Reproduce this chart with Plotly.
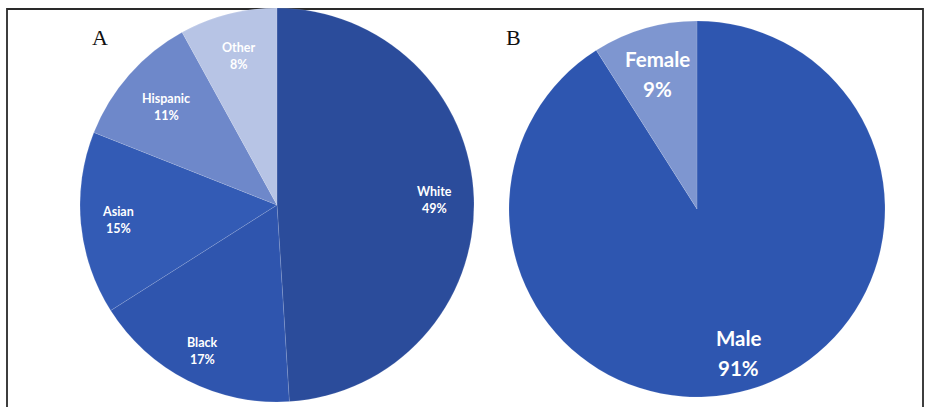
import math
import plotly.graph_objects as go

W, H = 931, 407

# Panel A: race / ethnicity
race_labels = ["White", "Black", "Asian", "Hispanic", "Other"]
race_values = [49, 17, 15, 11, 8]
race_colors = ["#2B4C9B", "#2F55AE", "#335BB5", "#6E88CA", "#B7C4E5"]
race_label_radius = [0.80, 0.83, 0.81, 0.75, 0.78]

# Panel B: sex
sex_labels = ["Male", "Female"]
sex_values = [91, 9]
sex_colors = ["#2E56B0", "#7E96D0"]
sex_label_radius = [0.80, 0.75]

panel_letters = ["A", "B"]

# pie geometry in pixels: centre x, centre y, radius
pie_a = (277, 205, 197)
pie_b = (697, 209, 188)


def domain(geom):
    cx, cy, r = geom
    return dict(x=[(cx - r) / W, (cx + r) / W],
                y=[1 - (cy + r) / H, 1 - (cy - r) / H])


def slice_labels(labels, values, radii, geom, size, gap):
    cx, cy, r = geom
    total = sum(values)
    out = []
    cum = 0
    for lab, val, rho in zip(labels, values, radii):
        mid = math.radians(360 * (cum + val / 2) / total)
        cum += val
        px = cx + rho * r * math.sin(mid)
        py = cy - rho * r * math.cos(mid)
        for text, dy in ((lab, -gap / 2), (f"{val}%", gap / 2)):
            out.append(dict(
                x=px / W, y=1 - (py + dy) / H, xref="paper", yref="paper",
                text=f"<b>{text}</b>", showarrow=False,
                xanchor="center", yanchor="middle",
                font=dict(family="Lato, sans-serif", size=size, color="white"),
            ))
    return out


fig = go.Figure()
for labels, values, colors, geom in (
    (race_labels, race_values, race_colors, pie_a),
    (sex_labels, sex_values, sex_colors, pie_b),
):
    fig.add_trace(go.Pie(
        labels=labels, values=values, sort=False, direction="clockwise",
        rotation=0, textinfo="none", hoverinfo="label+percent",
        marker=dict(colors=colors, line=dict(color="rgba(255,255,255,0.2)", width=0.6)),
        domain=domain(geom), showlegend=False,
    ))

annotations = []
annotations += slice_labels(race_labels, race_values, race_label_radius, pie_a, 12.5, 17)
annotations += slice_labels(sex_labels, sex_values, sex_label_radius, pie_b, 20.5, 30)
for letter, px in zip(panel_letters, (100, 513)):
    annotations.append(dict(
        x=px / W, y=1 - 37 / H, xref="paper", yref="paper", text=letter,
        showarrow=False, xanchor="center", yanchor="middle",
        font=dict(family="Liberation Serif, serif", size=22, color="#111111"),
    ))

# frame around the figure (bottom edge falls outside the page)
fig.add_shape(type="rect", xref="paper", yref="paper",
              x0=7 / W, x1=923 / W, y0=-0.05, y1=1 - 9 / H,
              line=dict(color="#2a2a2a", width=1.8), layer="below")

fig.update_layout(
    width=W, height=H, margin=dict(l=0, r=0, t=0, b=0),
    paper_bgcolor="white", plot_bgcolor="white",
    annotations=annotations,
)

fig.write_html("out.html")
